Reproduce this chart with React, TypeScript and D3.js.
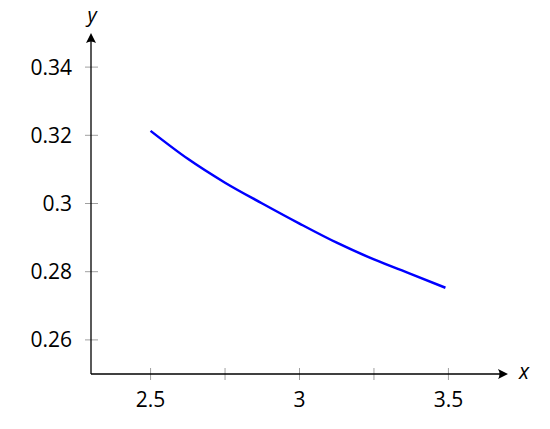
import * as d3 from 'd3';
import { useEffect, useRef } from 'react';

const xValues = [2.5, 2.625, 2.75, 2.875, 3.0, 3.125, 3.25, 3.375, 3.49];
const yValues = [0.3213, 0.3131, 0.3061, 0.3, 0.2941, 0.2885, 0.2836, 0.2793, 0.2753];
const xTickLabels = [2.5, 3, 3.5];
const xMinorTicks = [2.75, 3.25];
const yTickLabels = [0.26, 0.28, 0.3, 0.32, 0.34];

export default function App() {
    const ref = useRef<HTMLDivElement>(null);

    useEffect(() => {
        const width = 550;
        const height = 429;
        const font = '"Open Sans", sans-serif';
        const fontSize = 21;
        const tickColor = '#a0a0a0';

        const root = d3.select(ref.current);
        root.selectAll('*').remove();

        const svg = root
            .append('svg')
            .attr('width', width)
            .attr('height', height)
            .style('position', 'absolute')
            .style('left', 0)
            .style('top', 0);

        const xScale = d3.scaleLinear().domain([2.3, 3.7]).range([91, 508]);
        const yScale = d3.scaleLinear().domain([0.25, 0.35]).range([374, 33]);

        const x0 = xScale(2.3);
        const y0 = yScale(0.25);

        // y ticks
        svg.append('g')
            .selectAll('line')
            .data(yTickLabels)
            .join('line')
            .attr('x1', x0 - 6)
            .attr('x2', x0 + 7)
            .attr('y1', d => yScale(d))
            .attr('y2', d => yScale(d))
            .attr('stroke', tickColor)
            .attr('stroke-width', 1);

        svg.append('g')
            .selectAll('text')
            .data(yTickLabels)
            .join('text')
            .attr('x', 72)
            .attr('y', d => yScale(d))
            .attr('dy', '0.36em')
            .attr('text-anchor', 'end')
            .attr('font-family', font)
            .attr('font-size', fontSize)
            .attr('fill', '#000')
            .text(d => String(d));

        // x ticks
        svg.append('g')
            .selectAll('line')
            .data([...xTickLabels, ...xMinorTicks])
            .join('line')
            .attr('x1', d => xScale(d))
            .attr('x2', d => xScale(d))
            .attr('y1', y0 - 6)
            .attr('y2', y0 + 6)
            .attr('stroke', tickColor)
            .attr('stroke-width', 1);

        svg.append('g')
            .selectAll('text')
            .data(xTickLabels)
            .join('text')
            .attr('x', d => xScale(d))
            .attr('y', 407)
            .attr('text-anchor', 'middle')
            .attr('font-family', font)
            .attr('font-size', fontSize)
            .attr('fill', '#000')
            .text(d => String(d));

        // axes
        svg.append('line')
            .attr('x1', x0).attr('y1', y0)
            .attr('x2', xScale(3.7) - 4).attr('y2', y0)
            .attr('stroke', 'black').attr('stroke-width', 1.3);
        svg.append('line')
            .attr('x1', x0).attr('y1', y0)
            .attr('x2', x0).attr('y2', yScale(0.35) + 4)
            .attr('stroke', 'black').attr('stroke-width', 1.3);

        const ax = xScale(3.7);
        svg.append('path')
            .attr('d', `M${ax},${y0} L${ax - 10},${y0 - 5} Q${ax - 7},${y0} ${ax - 10},${y0 + 5} Z`)
            .attr('fill', 'black');
        const ay = yScale(0.35);
        svg.append('path')
            .attr('d', `M${x0},${ay} L${x0 - 5},${ay + 10} Q${x0},${ay + 7} ${x0 + 5},${ay + 10} Z`)
            .attr('fill', 'black');

        svg.append('text')
            .attr('x', 519).attr('y', 379)
            .attr('font-family', font).attr('font-style', 'italic')
            .attr('font-size', fontSize).attr('fill', '#000')
            .text('x');
        svg.append('text')
            .attr('x', 92).attr('y', 22)
            .attr('text-anchor', 'middle')
            .attr('font-family', font).attr('font-style', 'italic')
            .attr('font-size', 20).attr('fill', '#000')
            .text('y');

        // curve
        const points = xValues.map((x, i) => [x, yValues[i]] as [number, number]);
        const line = d3.line<[number, number]>()
            .x(d => xScale(d[0]))
            .y(d => yScale(d[1]))
            .curve(d3.curveMonotoneX);

        svg.append('path')
            .datum(points)
            .attr('d', line)
            .attr('fill', 'none')
            .attr('stroke', '#0000ff')
            .attr('stroke-width', 2.5);
    }, []);

    return <div ref={ref}></div>;
}
